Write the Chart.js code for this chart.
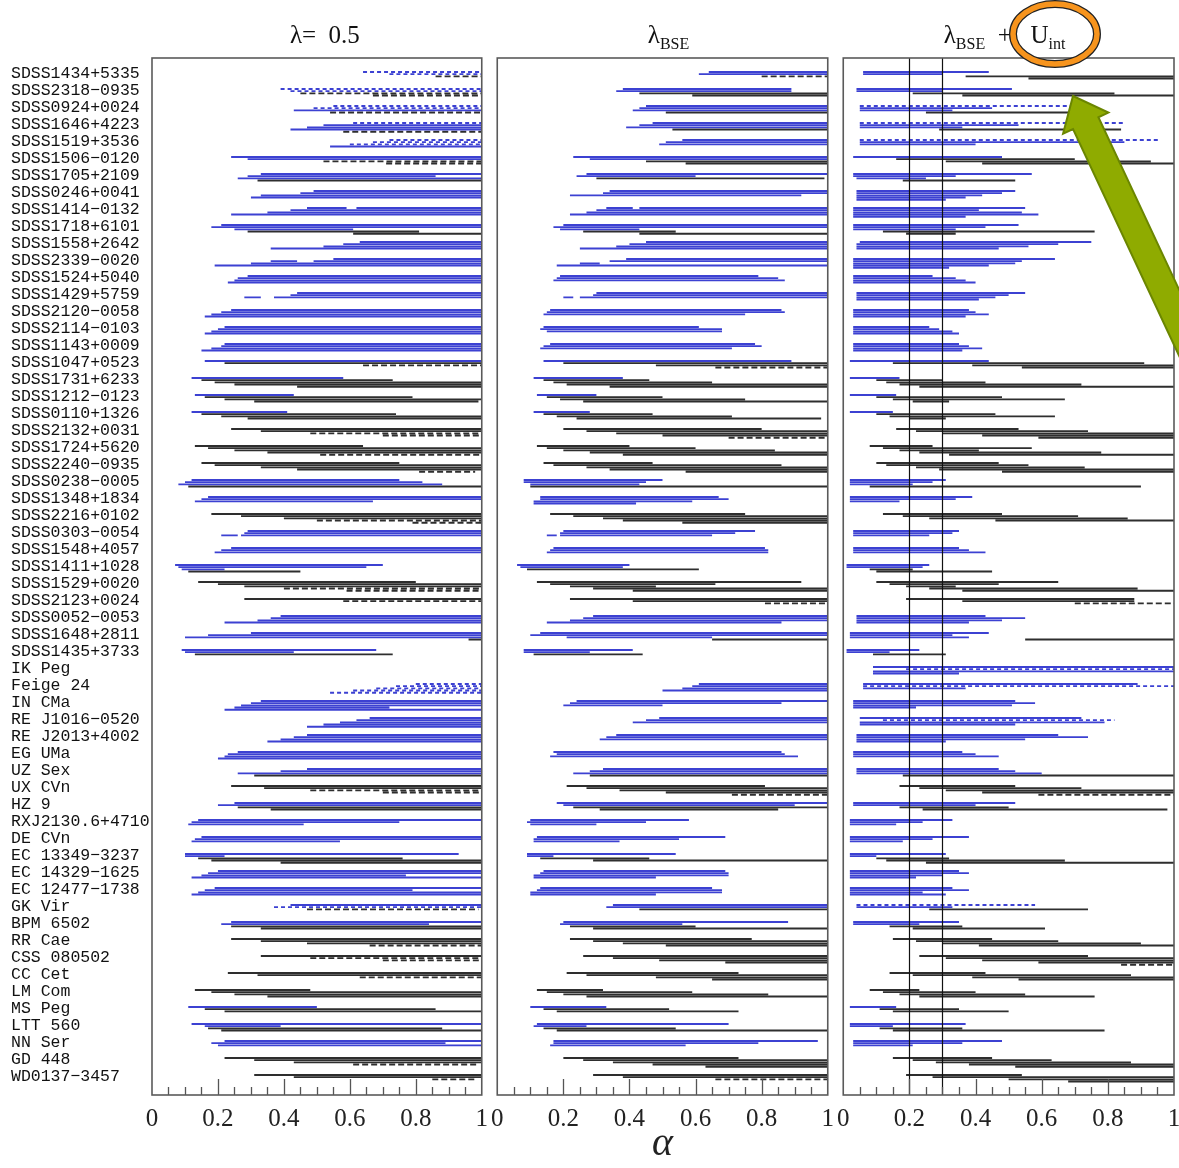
<!DOCTYPE html>
<html>
<head>
<meta charset="utf-8">
<script src="https://cdn.jsdelivr.net/npm/chart.js@4.4.1/dist/chart.umd.min.js"></script>
<style>
  html, body { margin: 0; padding: 0; background: #fff; overflow: hidden; width: 1179px; height: 1168px; }
  .panel { position: absolute; top: 0; height: 1168px; }
  #p1 { left: 0; width: 497px; }
  #p2 { left: 482px; width: 361px; }
  #p3 { left: 828px; width: 366px; }
</style>
</head>
<body>
<div class="panel" id="p1"><canvas id="c1" width="497" height="1168"></canvas></div>
<div class="panel" id="p2"><canvas id="c2" width="361" height="1168"></canvas></div>
<div class="panel" id="p3"><canvas id="c3" width="366" height="1168"></canvas></div>
<script>
const rowNames = [
  "SDSS1434+5335", "SDSS2318−0935", "SDSS0924+0024", "SDSS1646+4223", "SDSS1519+3536",
  "SDSS1506−0120", "SDSS1705+2109", "SDSS0246+0041", "SDSS1414−0132", "SDSS1718+6101",
  "SDSS1558+2642", "SDSS2339−0020", "SDSS1524+5040", "SDSS1429+5759", "SDSS2120−0058",
  "SDSS2114−0103", "SDSS1143+0009", "SDSS1047+0523", "SDSS1731+6233", "SDSS1212−0123",
  "SDSS0110+1326", "SDSS2132+0031", "SDSS1724+5620", "SDSS2240−0935", "SDSS0238−0005",
  "SDSS1348+1834", "SDSS2216+0102", "SDSS0303−0054", "SDSS1548+4057", "SDSS1411+1028",
  "SDSS1529+0020", "SDSS2123+0024", "SDSS0052−0053", "SDSS1648+2811", "SDSS1435+3733",
  "IK Peg", "Feige 24", "IN CMa", "RE J1016−0520", "RE J2013+4002",
  "EG UMa", "UZ Sex", "UX CVn", "HZ 9", "RXJ2130.6+4710",
  "DE CVn", "EC 13349−3237", "EC 14329−1625", "EC 12477−1738", "GK Vir",
  "BPM 6502", "RR Cae", "CSS 080502", "CC Cet", "LM Com",
  "MS Peg", "LTT 560", "NN Ser", "GD 448", "WD0137−3457"
];

// each row: list of lines, top to bottom; a line = [style, start, end, (start, end) ...]
// B blue solid, Bd blue dashed, K black solid, Kd black dashed
const lambdaHalf = [
  [['Bd',.64,1],['Bd',.72,1],['Kd',.86,1]],
  [['Bd',.39,1],['Bd',.42,1],['Kd',.45,1],['Kd',.67,1]],
  [['Bd',.55,1],['Bd',.49,1],['B',.43,1],['Kd',.54,1]],
  [['Bd',.61,1],['B',.52,1],['B',.47,1],['B',.42,1],['Kd',.58,1]],
  [['Bd',.72,1],['Bd',.67,1],['Bd',.60,1],['B',.54,1]],
  [['B',.24,1],['B',.29,1],['Kd',.52,1],['Kd',.71,1]],
  [['B',.33,1],['B',.29,.86],['B',.26,1],['K',.32,1]],
  [['B',.49,1],['B',.45,1],['B',.33,1],['B',.30,1]],
  [['B',.47,.59,.62,1],['B',.42,1],['B',.35,1],['B',.24,1]],
  [['B',.21,1],['B',.18,1],['B',.25,.61],['K',.29,.81],['K',.61,1]],
  [['B',.63,1],['B',.58,1],['B',.52,1],['B',.36,1]],
  [['B',.55,1],['B',.36,.44,.49,1],['B',.30,1],['B',.19,1]],
  [['B',.29,1],['B',.26,1],['B',.25,1],['B',.23,1]],
  [['B',.44,1],['B',.42,1],['B',.28,.33,.37,1]],
  [['B',.24,1],['B',.21,1],['B',.18,1],['B',.16,1]],
  [['B',.22,1],['B',.20,1],['B',.18,1],['B',.16,1]],
  [['B',.22,1],['B',.21,1],['B',.18,1],['B',.15,1]],
  [['B',.16,1],['K',.22,1],['Kd',.64,1]],
  [['B',.12,.58],['K',.15,.73],['K',.19,1],['K',.25,1],['K',.44,1]],
  [['B',.13,.43],['K',.16,.79],['K',.22,1],['K',.31,.99]],
  [['B',.12,.41],['K',.15,.74],['K',.21,1],['K',.29,1]],
  [['K',.24,1],['K',.33,1],['Kd',.48,1],['Kd',.70,1]],
  [['K',.13,.64],['K',.17,1],['K',.25,1],['K',.35,1],['Kd',.51,1]],
  [['K',.15,.75],['K',.19,1],['K',.33,1],['K',.44,1],['Kd',.81,.98]],
  [['B',.12,.75],['B',.10,.82],['B',.08,.88],['K',.11,1]],
  [['B',.17,1],['B',.15,1],['B',.13,.67]],
  [['K',.18,1],['K',.27,1],['K',.40,1],['Kd',.50,1],['Kd',.79,1]],
  [['B',.29,1],['B',.28,1],['B',.21,.26,.27,1]],
  [['B',.24,1],['B',.21,1],['B',.19,1]],
  [['B',.07,.70],['B',.08,.65],['B',.09,.22],['K',.11,.45]],
  [['K',.14,.80],['K',.20,1],['K',.28,1],['Kd',.40,1],['Kd',.59,1]],
  [['K',.28,1],['Kd',.58,1]],
  [['B',.39,1],['B',.36,1],['B',.32,1],['B',.22,1]],
  [['B',.30,1],['B',.17,1],['B',.10,1],['K',.96,1]],
  [['B',.09,.68],['B',.10,.43],['K',.13,.73]],
  [],
  [['Bd',.80,1],['Bd',.74,1],['Bd',.68,1],['Bd',.61,1],['Bd',.54,1]],
  [['B',.33,1],['B',.30,1],['B',.27,1],['B',.25,.72],['B',.22,1]],
  [['B',.66,1],['B',.62,1],['B',.57,1],['B',.52,1],['B',.47,1]],
  [['B',.47,1],['B',.43,1],['B',.39,1],['B',.35,1]],
  [['B',.26,1],['B',.23,1],['B',.22,1],['B',.20,1]],
  [['B',.47,1],['B',.39,1],['B',.26,1],['K',.31,1]],
  [['K',.24,1],['K',.34,1],['Kd',.48,1],['Kd',.70,1]],
  [['B',.25,1],['B',.20,1],['K',.26,1],['K',.36,1]],
  [['B',.14,1],['B',.12,.75],['B',.11,.46]],
  [['B',.15,1],['B',.13,1],['B',.12,.57]],
  [['B',.10,.93],['B',.10,.22],['K',.14,.76],['K',.18,1],['K',.39,1]],
  [['B',.20,1],['B',.17,1],['B',.15,.77],['B',.12,1]],
  [['B',.19,1],['B',.16,.79],['B',.14,1],['B',.12,1]],
  [['B',.42,1],['Bd',.37,1],['Kd',.47,.99]],
  [['B',.24,1],['B',.21,.84],['K',.24,1],['K',.33,1]],
  [['K',.24,1],['K',.33,1],['K',.47,1],['Kd',.66,1]],
  [['K',.33,1],['Kd',.48,1],['Kd',.70,1]],
  [['K',.23,1],['K',.32,1],['Kd',.63,1]],
  [['K',.13,.48],['K',.18,1],['K',.25,1],['K',.35,1]],
  [['B',.11,.50],['K',.16,.86],['K',.22,1]],
  [['B',.12,1],['B',.16,.39],['K',.17,.88],['K',.21,1]],
  [['B',.22,1],['B',.18,.89],['B',.20,1]],
  [['K',.22,1],['K',.31,1],['K',.43,1],['Kd',.61,.99]],
  [['K',.31,1],['K',.43,1],['Kd',.85,.98]]
];

const lambdaBse = [
  [['B',.64,1],['B',.61,1],['Kd',.80,1]],
  [['B',.38,.89],['B',.36,.89],['K',.43,1],['K',.59,1]],
  [['B',.45,1],['B',.43,1],['B',.41,1],['K',.51,1]],
  [['B',.47,1],['B',.43,1],['B',.39,1],['K',.53,1]],
  [['B',.56,1],['B',.51,1],['B',.49,1]],
  [['B',.23,1],['B',.28,1],['K',.45,1],['K',.57,1]],
  [['B',.27,1],['B',.24,.60],['K',.30,.99]],
  [['B',.34,1],['B',.32,1],['B',.22,.92]],
  [['B',.33,.41,.43,1],['B',.30,1],['B',.27,1],['B',.22,1]],
  [['B',.20,1],['B',.17,1],['B',.19,.43],['K',.26,.54],['K',.43,1]],
  [['B',.45,1],['B',.40,1],['B',.36,1],['B',.25,1]],
  [['B',.39,1],['B',.34,1],['B',.25,.31],['B',.18,1]],
  [['B',.19,.79],['B',.18,.85],['B',.17,.87]],
  [['B',.30,1],['B',.29,1],['B',.20,.23,.25,1]],
  [['B',.16,.86],['B',.15,.87],['B',.14,.75]],
  [['B',.14,.61],['B',.13,.68],['B',.15,.68]],
  [['B',.16,.78],['B',.14,.80],['B',.13,.71]],
  [['B',.14,.89],['K',.20,1],['K',.48,1],['Kd',.66,1]],
  [['B',.11,.38],['K',.14,.46],['K',.17,.65],['K',.21,1],['K',.34,1]],
  [['B',.12,.30],['K',.15,.50],['K',.19,.75],['K',.26,1]],
  [['B',.11,.28],['K',.14,.47],['K',.18,.71],['K',.24,.98]],
  [['K',.20,.80],['K',.27,1],['K',.36,1],['K',.50,1],['Kd',.70,1]],
  [['K',.12,.40],['K',.15,.60],['K',.20,.84],['K',.28,1],['K',.38,1]],
  [['K',.14,.47],['K',.17,.86],['K',.27,1],['K',.34,1],['K',.57,1]],
  [['B',.08,.50],['B',.08,.45],['B',.10,.43],['K',.10,1]],
  [['B',.13,.67],['B',.13,.70],['B',.11,.59],['B',.11,.42]],
  [['K',.16,.75],['K',.23,1],['K',.32,1],['K',.38,1],['K',.56,1]],
  [['B',.20,.78],['B',.19,.72],['B',.15,.18,.19,.65]],
  [['B',.17,.81],['B',.16,.82],['B',.15,.82]],
  [['B',.06,.40],['B',.07,.38],['K',.09,.61]],
  [['K',.12,.92],['K',.16,.66],['K',.22,.48],['K',.29,1],['K',.41,1]],
  [['K',.22,1],['K',.41,1],['Kd',.81,1]],
  [['B',.29,1],['B',.26,1],['B',.22,1],['B',.15,.86]],
  [['B',.13,1],['B',.10,1],['B',.21,.65],['K',.65,1]],
  [['B',.08,.41],['B',.08,.28],['K',.11,.44]],
  [],
  [['B',.61,1],['B',.59,1],['B',.56,1],['B',.50,1]],
  [['B',.24,1],['B',.22,.86],['B',.20,.50]],
  [['B',.49,1],['B',.45,1],['B',.41,1]],
  [['B',.36,1],['B',.33,1],['B',.31,1]],
  [['B',.17,.86],['B',.18,.87],['B',.16,.91]],
  [['B',.32,1],['B',.28,1],['B',.23,1],['K',.28,1]],
  [['K',.21,.81],['K',.27,1],['K',.37,1],['K',.51,1],['Kd',.71,1]],
  [['B',.18,1],['B',.20,.90],['K',.23,1],['K',.31,.85]],
  [['B',.10,.58],['B',.09,.45],['B',.10,.30]],
  [['B',.12,.69],['B',.11,.55],['B',.11,.37]],
  [['B',.09,.54],['B',.09,.17],['K',.13,.46],['K',.29,1]],
  [['B',.14,.69],['B',.13,.70],['B',.11,.70],['B',.11,.48]],
  [['B',.13,.65],['B',.12,.68],['B',.10,.68],['B',.10,.48]],
  [['B',.35,1],['B',.33,1],['K',.43,1]],
  [['B',.20,.88],['B',.19,.56],['K',.22,.60],['K',.29,1]],
  [['K',.22,.77],['K',.29,1],['K',.38,1],['K',.51,1]],
  [['K',.26,1],['K',.35,1],['K',.49,1],['K',.69,1]],
  [['K',.21,.73],['K',.27,1],['K',.48,1],['K',.65,1]],
  [['K',.12,.32],['K',.15,.59],['K',.20,.82],['K',.27,1]],
  [['B',.10,.33],['K',.14,.52],['K',.18,.73]],
  [['B',.12,.70],['B',.11,.27],['K',.14,.54],['K',.18,1]],
  [['B',.17,.97],['B',.17,.79],['B',.16,.57]],
  [['K',.20,.73],['K',.26,1],['K',.35,1],['K',.47,1],['K',.63,1]],
  [['K',.29,1],['K',.38,1],['Kd',.66,1]]
];

const lambdaBseUint = [
  [['B',.06,.44],['B',.06,.30],['K',.37,1],['K',.56,1]],
  [['B',.04,.51],['B',.04,.30],['K',.21,.82],['K',.36,1]],
  [['Bd',.05,.69],['B',.05,.45],['B',.05,.33],['K',.25,.69]],
  [['Bd',.05,.85],['B',.05,.53],['B',.05,.36],['K',.29,.84]],
  [['Bd',.05,.96],['B',.05,.85],['B',.05,.40]],
  [['B',.03,.48],['K',.16,.70],['K',.31,.93],['K',.42,1]],
  [['B',.03,.57],['B',.03,.34],['B',.04,.25],['K',.18,.52]],
  [['B',.04,.52],['B',.04,.48],['B',.04,.42],['B',.04,.37],['B',.04,.31]],
  [['B',.03,.55],['B',.03,.41],['B',.03,.54],['B',.03,.59],['B',.03,.37]],
  [['B',.03,.53],['B',.03,.43],['B',.03,.34],['K',.12,.76],['K',.19,.34]],
  [['B',.05,.75],['B',.04,.65],['B',.04,.56],['B',.04,.47]],
  [['B',.03,.64],['B',.03,.54],['B',.03,.52],['B',.03,.44],['B',.03,.32]],
  [['B',.03,.27],['B',.03,.34],['B',.03,.37],['B',.03,.40]],
  [['B',.04,.55],['B',.04,.50],['B',.04,.46],['B',.04,.41]],
  [['B',.03,.38],['B',.03,.40],['B',.03,.44],['B',.03,.37]],
  [['B',.03,.26],['B',.03,.29],['B',.03,.33],['B',.03,.35]],
  [['B',.03,.35],['B',.03,.38],['B',.03,.42],['B',.03,.36]],
  [['B',.02,.44],['K',.15,.91],['K',.39,1],['K',.54,1]],
  [['B',.02,.17],['K',.10,.30],['K',.13,.43],['K',.17,.72],['K',.23,1]],
  [['B',.02,.16],['K',.10,.48],['K',.15,.67],['K',.21,.32]],
  [['B',.02,.15],['K',.10,.46],['K',.14,.64],['K',.20,.31]],
  [['K',.16,.53],['K',.22,.74],['K',.30,1],['K',.42,1],['K',.59,1]],
  [['K',.08,.27],['K',.12,.57],['K',.17,.41],['K',.23,.78],['K',.32,1]],
  [['K',.10,.47],['K',.13,.56],['K',.22,.73],['K',.29,1],['K',.48,1]],
  [['B',.02,.31],['B',.02,.27],['B',.02,.21],['K',.08,.90]],
  [['B',.02,.39],['B',.02,.34],['B',.02,.17]],
  [['K',.12,.48],['K',.18,.71],['K',.26,.86],['K',.46,1]],
  [['B',.03,.35],['B',.03,.33],['B',.03,.26]],
  [['B',.03,.35],['B',.03,.38],['B',.03,.43]],
  [['B',.01,.26],['B',.01,.24],['K',.08,.21],['K',.10,.45]],
  [['K',.10,.65],['K',.14,.47],['K',.19,.34],['K',.26,.89],['K',.36,1]],
  [['K',.19,.88],['K',.36,.88],['Kd',.70,1]],
  [['B',.04,.43],['B',.04,.55],['B',.04,.48],['B',.04,.38]],
  [['B',.02,.44],['B',.02,.33],['B',.02,.38],['K',.55,1]],
  [['B',.01,.23],['B',.01,.14],['K',.09,.31]],
  [['B',.09,1],['Bd',.19,1],['B',.09,1],['B',.09,.35]],
  [['B',.06,.89],['Bd',.06,1],['B',.06,.37]],
  [['B',.03,.52],['B',.03,.58],['B',.03,.51],['B',.03,.22]],
  [['B',.05,.72],['Bd',.12,.82],['B',.05,.79],['B',.05,.52]],
  [['B',.04,.65],['B',.04,.74],['B',.04,.55],['B',.04,.31]],
  [['B',.03,.36],['B',.03,.40],['B',.03,.47]],
  [['B',.04,.47],['B',.04,.52],['B',.04,.60],['K',.18,1]],
  [['K',.17,.52],['K',.23,.72],['K',.31,1],['K',.42,1],['Kd',.59,1]],
  [['B',.03,.52],['B',.03,.40],['K',.17,.50],['K',.24,.98]],
  [['B',.02,.33],['B',.02,.24],['B',.02,.16]],
  [['B',.02,.38],['B',.02,.27],['B',.02,.18]],
  [['B',.02,.31],['B',.02,.10],['K',.10,.32],['K',.13,.67],['K',.25,1]],
  [['B',.02,.35],['B',.02,.38],['B',.02,.30],['B',.02,.22]],
  [['B',.02,.33],['B',.02,.38],['B',.02,.24],['B',.02,.31]],
  [['Bd',.04,.58],['B',.04,.33],['K',.26,.74]],
  [['B',.03,.35],['B',.03,.23],['K',.14,.36],['K',.21,.61]],
  [['K',.15,.45],['K',.22,.65],['K',.30,.90],['K',.41,1]],
  [['K',.23,.74],['K',.31,1],['K',.42,1],['K',.59,1],['Kd',.84,1]],
  [['K',.14,.43],['K',.21,.87],['K',.39,1],['K',.53,1]],
  [['K',.08,.23],['K',.12,.40],['K',.17,.55],['K',.23,.76]],
  [['B',.02,.16],['K',.11,.35],['K',.15,.50]],
  [['B',.02,.37],['B',.02,.15],['K',.11,.36],['K',.15,.79]],
  [['B',.03,.48],['B',.03,.36],['B',.03,.21]],
  [['K',.15,.45],['K',.21,.63],['K',.28,.87],['K',.38,1],['K',.52,1]],
  [['K',.19,.54],['K',.27,1],['K',.50,1],['K',.68,1]]
];

const refAlphas = [0.2, 0.3];

const styles = {
  B:  { color: '#3c41d2', dash: [] },
  Bd: { color: '#3c41d2', dash: [4, 3] },
  K:  { color: '#2e2e2e', dash: [] },
  Kd: { color: '#2e2e2e', dash: [6, 3] }
};

function buildDatasets(rows) {
  return Object.keys(styles).map(code => {
    const pts = [];
    rows.forEach((lines, r) => {
      lines.forEach((line, j) => {
        if (line[0] !== code) return;
        const y = r + 1 - 0.12 + j * 0.13;
        for (let k = 1; k < line.length; k += 2) {
          pts.push({ x: line[k], y }, { x: line[k + 1], y }, { x: NaN, y: NaN });
        }
      });
    });
    return {
      data: pts,
      borderColor: styles[code].color,
      borderDash: styles[code].dash,
      borderWidth: 1.9,
      pointRadius: 0,
      fill: false,
      spanGaps: false
    };
  });
}

const serif = "'Liberation Serif', 'DejaVu Serif', serif";

const decor = {
  id: 'decor',
  afterDraw(chart, args, opts) {
    const { ctx, chartArea: a, scales } = chart;
    ctx.save();
    // vertical reference lines
    if (opts.refLines) {
      ctx.strokeStyle = '#111';
      ctx.lineWidth = 1.2;
      refAlphas.forEach(v => {
        const x = Math.round(scales.x.getPixelForValue(v)) + 0.5;
        ctx.beginPath(); ctx.moveTo(x, a.top); ctx.lineTo(x, a.bottom); ctx.stroke();
      });
    }
    // inner tick marks
    ctx.strokeStyle = '#555';
    ctx.lineWidth = 1.3;
    for (let k = 1; k < 20; k++) {
      const x = Math.round(scales.x.getPixelForValue(k * 0.05)) + 0.5;
      const len = k % 4 === 0 ? 16 : 8;
      ctx.beginPath(); ctx.moveTo(x, a.bottom); ctx.lineTo(x, a.bottom - len); ctx.stroke();
    }
    // frame
    ctx.strokeStyle = '#5a5a5a';
    ctx.lineWidth = 1.6;
    ctx.strokeRect(a.left, a.top, a.right - a.left, a.bottom - a.top);
    // panel title with subscripts
    const parts = opts.title || [];
    const big = '25px ' + serif, small = '16px ' + serif;
    let w = 0;
    parts.forEach(p => { ctx.font = p[1] === 's' ? small : big; w += ctx.measureText(p[0]).width; });
    let x = (a.left + a.right) / 2 - w / 2 + (opts.titleShift || 0);
    const base = a.top - 15;
    ctx.fillStyle = '#111';
    ctx.textBaseline = 'alphabetic';
    ctx.textAlign = 'left';
    parts.forEach(p => {
      ctx.font = p[1] === 's' ? small : big;
      ctx.fillText(p[0], x, p[1] === 's' ? base + 6 : base);
      x += ctx.measureText(p[0]).width;
    });
    // annotation: orange ring and green arrow
    if (opts.annotate) {
      const cx = 227, cy = 34;
      ctx.beginPath(); ctx.ellipse(cx, cy, 42, 30, 0, 0, Math.PI * 2);
      ctx.strokeStyle = '#222'; ctx.lineWidth = 8; ctx.stroke();
      ctx.strokeStyle = '#f7941d'; ctx.lineWidth = 5.5; ctx.stroke();
      const tip = [245, 96], d = [0.424, 0.906], n = [0.906, -0.424];
      const hl = 30, hw = 25, sw = 14, len = 420;
      const P = (t, s) => [tip[0] + d[0] * t + n[0] * s, tip[1] + d[1] * t + n[1] * s];
      const poly = [P(0, 0), P(hl, hw), P(hl, sw), P(len, sw), P(len, -sw), P(hl, -sw), P(hl, -hw)];
      ctx.beginPath();
      poly.forEach((p, i) => i ? ctx.lineTo(p[0], p[1]) : ctx.moveTo(p[0], p[1]));
      ctx.closePath();
      ctx.fillStyle = '#8fab00'; ctx.fill();
      ctx.strokeStyle = '#6b8600'; ctx.lineWidth = 2; ctx.stroke();
    }
    ctx.restore();
  }
};

function makePanel(canvasId, rows, cfg) {
  return new Chart(document.getElementById(canvasId), {
    type: 'line',
    data: { datasets: buildDatasets(rows) },
    plugins: [decor],
    options: {
      responsive: false,
      animation: false,
      events: [],
      layout: { padding: { top: 58, bottom: 0, left: cfg.padLeft, right: cfg.padRight } },
      plugins: {
        legend: { display: false },
        tooltip: { enabled: false },
        decor: { title: cfg.title, refLines: !!cfg.refLines, annotate: !!cfg.annotate, titleShift: cfg.titleShift }
      },
      scales: {
        x: {
          type: 'linear', min: 0, max: 1,
          grid: { display: false, drawTicks: false },
          border: { display: false },
          ticks: {
            stepSize: 0.2, autoSkip: false, maxRotation: 0, padding: 9,
            color: '#222', font: { family: serif, size: 25 },
            callback: v => (v === 0 ? '0' : Math.abs(v - 1) < 1e-9 ? '1' : v.toFixed(1))
          },
          title: cfg.xTitle ? {
            display: true, text: 'α', color: '#222', padding: 0,
            font: { family: serif, size: 40, style: 'italic' }
          } : { display: false },
          afterFit: s => { s.height = 73; }
        },
        y: {
          type: 'linear', reverse: true, min: 0.06, max: 61.06,
          display: !!cfg.showNames,
          grid: { display: false, drawTicks: false },
          border: { display: false },
          afterBuildTicks: s => { s.ticks = rowNames.map((n, i) => ({ value: i + 1 })); },
          ticks: {
            autoSkip: false, crossAlign: 'far', color: '#111',
            font: { family: "'Liberation Mono', 'DejaVu Sans Mono', monospace", size: 16.5 },
            callback: v => rowNames[v - 1] || ''
          },
          afterFit: s => { if (cfg.showNames) s.width = 141; }
        }
      }
    }
  });
}

makePanel('c1', lambdaHalf, { padLeft: 11, padRight: 15, showNames: true, title: [['λ=  0.5', 'm']], titleShift: 8 });
makePanel('c2', lambdaBse, { padLeft: 15, padRight: 15, xTitle: true, title: [['λ', 'm'], ['BSE', 's']], titleShift: 6 });
makePanel('c3', lambdaBseUint, { padLeft: 15, padRight: 20, refLines: true, annotate: true,
  title: [['λ', 'm'], ['BSE', 's'], ['  +   ', 'm'], ['U', 'm'], ['int', 's']], titleShift: -4 });
</script>
</body>
</html>
